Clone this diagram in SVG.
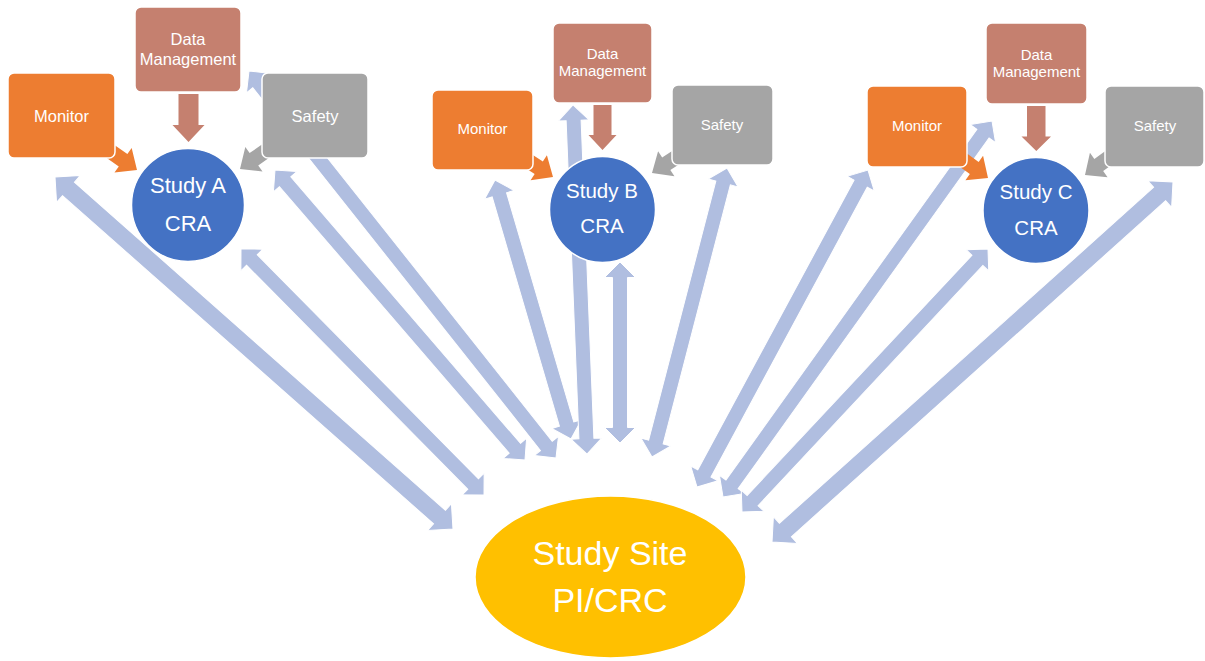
<svg xmlns="http://www.w3.org/2000/svg" width="1205" height="661" viewBox="0 0 1205 661">
<style>
.arw{fill:#B0BEE0;stroke:#fff;stroke-width:1}
.am{fill:#ED7D31}
.ad{fill:#C5806F}
.as{fill:#A5A5A5}
.mon{fill:#ED7D31;stroke:#fff;stroke-width:1.5}
.dm{fill:#C5806F;stroke:#fff;stroke-width:1.5}
.saf{fill:#A5A5A5;stroke:#fff;stroke-width:1.5}
.cra{fill:#4472C4;stroke:#fff;stroke-width:1.5}
.site{fill:#FFC000;stroke:#fff;stroke-width:1.5}
text{fill:#fff;font-family:"Liberation Sans",Arial,sans-serif;text-anchor:middle}
.t16{font-size:16.5px}
.t15{font-size:15px}
.c22{font-size:22px}
.c20{font-size:20.5px}
.big{font-size:34px}
</style>
<defs>
<path id="sm" d="M0,0 L-17,-15 L-17,-7.5 L-42,-7.5 L-42,7.5 L-17,7.5 L-17,15 Z"/>
</defs>
<rect width="1205" height="661" fill="#fff"/>
<g id="connectors">
<path class="arw" transform="translate(55,177) rotate(41.49)" d="M0,0 L18,-18 L18,-9 L513.3,-9 L513.3,-18 L531.3,0 L513.3,18 L513.3,9 L18,9 L18,18 Z"/>
<path class="arw" transform="translate(241,249) rotate(45.35)" d="M0,0 L15.5,-15.5 L15.5,-7.5 L330.3,-7.5 L330.3,-15.5 L345.8,0 L330.3,15.5 L330.3,7.5 L15.5,7.5 L15.5,15.5 Z"/>
<path class="arw" transform="translate(275,170) rotate(49.24)" d="M0,0 L15.5,-15.5 L15.5,-7.5 L367.4,-7.5 L367.4,-15.5 L382.9,0 L367.4,15.5 L367.4,7.5 L15.5,7.5 L15.5,15.5 Z"/>
<path class="arw" transform="translate(249,71) rotate(51.58)" d="M0,0 L15.5,-15.5 L15.5,-7.5 L478.5,-7.5 L478.5,-15.5 L494,0 L478.5,15.5 L478.5,7.5 L15.5,7.5 L15.5,15.5 Z"/>
<path class="arw" transform="translate(495,180) rotate(73.65)" d="M0,0 L15.5,-15.5 L15.5,-7.5 L254.4,-7.5 L254.4,-15.5 L269.9,0 L254.4,15.5 L254.4,7.5 L15.5,7.5 L15.5,15.5 Z"/>
<path class="arw" transform="translate(573,105) rotate(87.7)" d="M0,0 L15.5,-15.5 L15.5,-7.5 L333.8,-7.5 L333.8,-15.5 L349.3,0 L333.8,15.5 L333.8,7.5 L15.5,7.5 L15.5,15.5 Z"/>
<path class="arw" transform="translate(620,262) rotate(90)" d="M0,0 L15.5,-15.5 L15.5,-7.5 L165.5,-7.5 L165.5,-15.5 L181,0 L165.5,15.5 L165.5,7.5 L15.5,7.5 L15.5,15.5 Z"/>
<path class="arw" transform="translate(727,168) rotate(104.55)" d="M0,0 L15.5,-15.5 L15.5,-7.5 L283.1,-7.5 L283.1,-15.5 L298.6,0 L283.1,15.5 L283.1,7.5 L15.5,7.5 L15.5,15.5 Z"/>
<path class="arw" transform="translate(868,170) rotate(118.34)" d="M0,0 L15.5,-15.5 L15.5,-7.5 L344.7,-7.5 L344.7,-15.5 L360.2,0 L344.7,15.5 L344.7,7.5 L15.5,7.5 L15.5,15.5 Z"/>
<path class="arw" transform="translate(992,121) rotate(125.58)" d="M0,0 L15.5,-15.5 L15.5,-7.5 L446.8,-7.5 L446.8,-15.5 L462.3,0 L446.8,15.5 L446.8,7.5 L15.5,7.5 L15.5,15.5 Z"/>
<path class="arw" transform="translate(988,249) rotate(133.09)" d="M0,0 L15.5,-15.5 L15.5,-7.5 L344.6,-7.5 L344.6,-15.5 L360.1,0 L344.6,15.5 L344.6,7.5 L15.5,7.5 L15.5,15.5 Z"/>
<path class="arw" transform="translate(1173,182) rotate(138.08)" d="M0,0 L18,-18 L18,-9 L520.9,-9 L520.9,-18 L538.9,0 L520.9,18 L520.9,9 L18,9 L18,18 Z"/>
<use href="#sm" class="am" transform="translate(137,170) rotate(35)"/>
<use href="#sm" class="as" transform="translate(240,169) rotate(145)"/>
<path class="ad" d="M178.5,94 H198.5 V125 H204.5 L188.5,142 L172.5,125 H178.5 Z"/>
<use href="#sm" class="am" transform="translate(553,177) rotate(33)"/>
<use href="#sm" class="as" transform="translate(652,173) rotate(147)"/>
<path class="ad" d="M593.5,105 H611.5 V135 H616.5 L602.5,150 L588.5,135 H593.5 Z"/>
<use href="#sm" class="am" transform="translate(988,178) rotate(36)"/>
<use href="#sm" class="as" transform="translate(1085,175) rotate(144)"/>
<path class="ad" d="M1027,106 H1045.5 V136.5 H1051 L1036.3,151 L1021.5,136.5 H1027 Z"/>
</g>
<g id="monitor-a"><rect class="mon" x="8" y="73" width="107" height="85" rx="6"/><text class="t16" x="61.5" y="121.5">Monitor</text></g>
<g id="dm-a"><rect class="dm" x="135" y="7" width="106" height="85" rx="6"/><text class="t16" x="188" y="45">Data</text><text class="t16" x="188" y="64.5">Management</text></g>
<g id="safety-a"><rect class="saf" x="262" y="73" width="106" height="85" rx="6"/><text class="t16" x="315" y="121.5">Safety</text></g>
<g id="cra-a"><circle class="cra" cx="188" cy="205" r="56.5"/><text class="c22" x="188" y="193">Study A</text><text class="c22" x="188" y="230.5">CRA</text></g>
<g id="monitor-b"><rect class="mon" x="432" y="90" width="101" height="80" rx="6"/><text class="t15" x="482.5" y="134">Monitor</text></g>
<g id="dm-b"><rect class="dm" x="553" y="23" width="99" height="80" rx="6"/><text class="t15" x="602.5" y="58.5">Data</text><text class="t15" x="602.5" y="76">Management</text></g>
<g id="safety-b"><rect class="saf" x="672" y="85" width="101" height="80" rx="6"/><text class="t15" x="722" y="130">Safety</text></g>
<g id="cra-b"><circle class="cra" cx="602.5" cy="209.5" r="53"/><text class="c20" x="602" y="198">Study B</text><text class="c20" x="602" y="233">CRA</text></g>
<g id="monitor-c"><rect class="mon" x="867" y="86" width="100" height="81" rx="6"/><text class="t15" x="917" y="130.5">Monitor</text></g>
<g id="dm-c"><rect class="dm" x="986" y="23" width="101" height="81" rx="6"/><text class="t15" x="1036.5" y="59.5">Data</text><text class="t15" x="1036.5" y="77">Management</text></g>
<g id="safety-c"><rect class="saf" x="1105" y="86" width="99" height="81" rx="6"/><text class="t15" x="1155" y="130.5">Safety</text></g>
<g id="cra-c"><circle class="cra" cx="1036" cy="210.5" r="53"/><text class="c20" x="1036" y="199">Study C</text><text class="c20" x="1036" y="235">CRA</text></g>
<g id="study-site"><ellipse class="site" cx="610.5" cy="577" rx="135.5" ry="81"/><text class="big" x="610" y="565">Study Site</text><text class="big" x="610" y="611.5">PI/CRC</text></g>
</svg>
